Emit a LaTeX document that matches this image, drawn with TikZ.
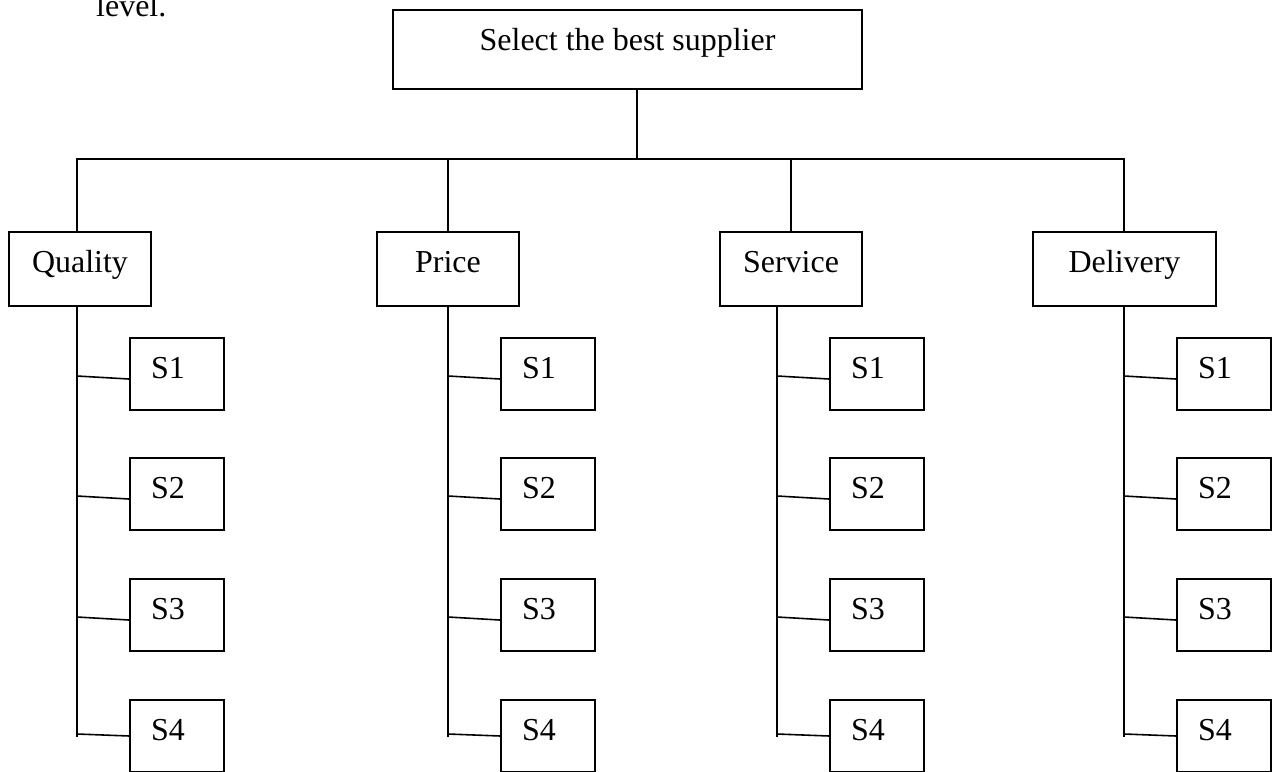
\documentclass[tikz,border=0pt]{standalone}
\usepackage{fontspec}
\setmainfont{Liberation Serif}
\usetikzlibrary{calc}

\begin{document}
\begin{tikzpicture}[x=0.02cm, y=-0.02cm,
  every node/.style={font=\fontsize{18.2}{22}\selectfont},
  goalbox/.style={draw, line width=0.9pt, inner sep=0pt,
    minimum width=9.38cm, text height=0.8cm, text depth=0.78cm},
  critbox/.style={draw, line width=0.9pt, inner sep=0pt,
    text height=0.8cm, text depth=0.68cm},
  supbox/.style={draw, line width=0.9pt, inner xsep=0.42cm, inner ysep=0pt,
    text width=1.04cm, align=left, text height=0.8cm, text depth=0.64cm},
  link/.style={line width=0.9pt}]
\useasboundingbox (0,0) rectangle (1277,771);
\clip (0,0) rectangle (1277,771);
\node[anchor=base west] (lvl) at (90,16) {level.};
\node[goalbox] (goal) at (627.5,49.5) {Select the best supplier};
\node[critbox, minimum width=2.84cm] (qual)  at (80,269)    {Quality};
\node[critbox, minimum width=2.84cm] (price) at (448,269)   {Price};
\node[critbox, minimum width=2.84cm] (serv)  at (791,269)   {Service};
\node[critbox, minimum width=3.66cm] (deliv) at (1124.5,269) {Delivery};
\coordinate (hub)   at (637,159);
\coordinate (qend)  at (77,737);
\coordinate (pend)  at (448,737);
\coordinate (svend) at (777,737);
\coordinate (dend)  at (1124,737);
% suppliers under each criterion
\node[supbox] (q1) at (177,374) {S1};
\node[supbox] (q2) at (177,494) {S2};
\node[supbox] (q3) at (177,615) {S3};
\node[supbox] (q4) at (177,736) {S4};
\node[supbox] (p1) at (548,374) {S1};
\node[supbox] (p2) at (548,494) {S2};
\node[supbox] (p3) at (548,615) {S3};
\node[supbox] (p4) at (548,736) {S4};
\node[supbox] (sv1) at (877,374) {S1};
\node[supbox] (sv2) at (877,494) {S2};
\node[supbox] (sv3) at (877,615) {S3};
\node[supbox] (sv4) at (877,736) {S4};
\node[supbox] (d1) at (1224,374) {S1};
\node[supbox] (d2) at (1224,494) {S2};
\node[supbox] (d3) at (1224,615) {S3};
\node[supbox] (d4) at (1224,736) {S4};
% tree lines
\draw[link] (goal.south -| hub) -- (hub);
\draw[link] (qual.north -| qend) |- (hub) -| (deliv.north -| dend);
\draw[link] (price.north) -- (price.north |- hub);
\draw[link] (serv.north) -- (serv.north |- hub);
\draw[link] (qual.south -| qend) -- (qend);
\draw[link] (price.south -| pend) -- (pend);
\draw[link] (serv.south -| svend) -- (svend);
\draw[link] (deliv.south -| dend) -- (dend);
\draw[link] ($(qend |- q1.west)+(0,2)$) -- (q1.186);
\draw[link] ($(qend |- q2.west)+(0,2)$) -- (q2.186);
\draw[link] ($(qend |- q3.west)+(0,2)$) -- (q3.186);
\draw[link] ($(qend |- q4.west)+(0,-2)$) -- (q4.west);
\draw[link] ($(pend |- p1.west)+(0,2)$) -- (p1.186);
\draw[link] ($(pend |- p2.west)+(0,2)$) -- (p2.186);
\draw[link] ($(pend |- p3.west)+(0,2)$) -- (p3.186);
\draw[link] ($(pend |- p4.west)+(0,-2)$) -- (p4.west);
\draw[link] ($(svend |- sv1.west)+(0,2)$) -- (sv1.186);
\draw[link] ($(svend |- sv2.west)+(0,2)$) -- (sv2.186);
\draw[link] ($(svend |- sv3.west)+(0,2)$) -- (sv3.186);
\draw[link] ($(svend |- sv4.west)+(0,-2)$) -- (sv4.west);
\draw[link] ($(dend |- d1.west)+(0,2)$) -- (d1.186);
\draw[link] ($(dend |- d2.west)+(0,2)$) -- (d2.186);
\draw[link] ($(dend |- d3.west)+(0,2)$) -- (d3.186);
\draw[link] ($(dend |- d4.west)+(0,-2)$) -- (d4.west);
\end{tikzpicture}
\end{document}
